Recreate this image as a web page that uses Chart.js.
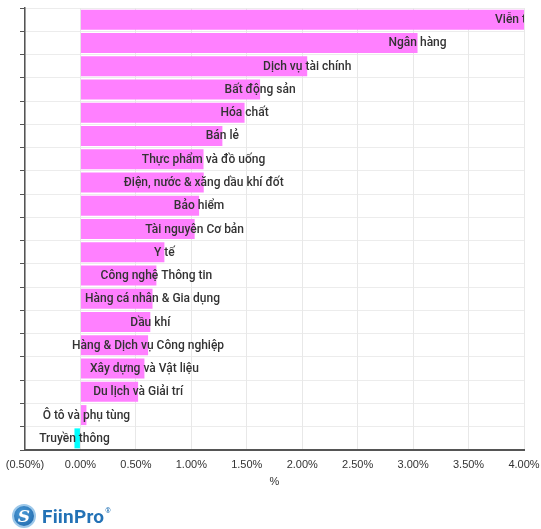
<!DOCTYPE html>
<html><head><meta charset="utf-8">
<script src="https://cdn.jsdelivr.net/npm/chart.js@4/dist/chart.umd.min.js"></script>
<style>
html,body{margin:0;padding:0;background:#fff;}
#wrap{position:relative;width:541px;height:529px;overflow:hidden;}
#c{position:absolute;left:0;top:0;}
#logo{position:absolute;left:12px;top:504px;height:24px;display:flex;align-items:center;font-family:Roboto,"Liberation Sans",sans-serif;}
#logo .ic{width:24px;height:24px;border-radius:50%;background:radial-gradient(circle at 40% 35%,#4a9ad6,#1d64a8);color:#fff;font-weight:bold;font-size:17px;display:flex;align-items:center;justify-content:center;font-family:"DejaVu Serif",serif;font-style:italic;box-sizing:border-box;border:2px solid #9cc8ea;}
#logo .tx{margin-left:6px;font-weight:bold;font-size:19px;color:#2372b6;letter-spacing:0.2px;}
#logo sup{font-size:7px;color:#2372b6;margin-left:1px;align-self:flex-start;margin-top:3px;}
</style></head>
<body>
<div id="wrap">
<canvas id="c" width="541" height="529"></canvas>
<div id="logo"><span class="ic">S</span><span class="tx">FiinPro</span><sup>®</sup></div>
</div>
<script>
const categories = ["Viễn thông","Ngân hàng","Dịch vụ tài chính","Bất động sản","Hóa chất","Bán lẻ","Thực phẩm và đồ uống","Điện, nước & xăng dầu khí đốt","Bảo hiểm","Tài nguyên Cơ bản","Y tế","Công nghệ Thông tin","Hàng cá nhân & Gia dụng","Dầu khí","Hàng & Dịch vụ Công nghiệp","Xây dựng và Vật liệu","Du lịch và Giải trí","Ô tô và phụ tùng","Truyền thông"];
const values = [4.00,3.04,2.045,1.62,1.48,1.28,1.11,1.112,1.07,1.03,0.757,0.685,0.65,0.63,0.61,0.577,0.52,0.054,-0.054];
const xTicks = [-0.5,0,0.5,1,1.5,2,2.5,3,3.5,4];
const posColor = "#ff80ff";
const negColor = "#00ffff";

const barLabels = {
  id:'barLabels',
  afterDatasetsDraw(chart){
    const {ctx, chartArea:a} = chart;
    const meta = chart.getDatasetMeta(0);
    ctx.save();
    ctx.beginPath(); ctx.rect(a.left, a.top, a.right-a.left, a.bottom-a.top); ctx.clip();
    ctx.font = '500 12px Roboto'; ctx.fillStyle = '#333'; ctx.textAlign = 'center'; ctx.textBaseline = 'middle';
    meta.data.forEach((el,i)=>{ ctx.fillText(categories[i], el.x, el.y + 0.5); });
    ctx.restore();
  }
};

new Chart(document.getElementById('c'), {
  type:'bar',
  data:{
    labels:categories,
    datasets:[{
      data:values,
      backgroundColor:values.map(v=>v<0?negColor:posColor),
      borderWidth:0,
      barPercentage:0.86,
      categoryPercentage:1
    }]
  },
  options:{
    indexAxis:'y',
    responsive:false,
    devicePixelRatio:1,
    animation:false,
    layout:{padding:{left:0,right:17,top:8,bottom:34}},
    plugins:{legend:{display:false},tooltip:{enabled:false}},
    scales:{
      y:{
        type:'category',
        ticks:{display:false},
        grid:{color:'#ececec',tickColor:'#555',tickLength:5,offset:true},
        border:{color:'#555',width:1.5},
        afterFit(s){ s.width = 25; s.paddingTop = 0; s.paddingBottom = 0; }
      },
      x:{
        type:'linear',
        min:-0.5,max:4,
        afterBuildTicks(s){ s.ticks = xTicks.map(v=>({value:v})); },
        ticks:{
          font:{family:'"Liberation Sans", Arial, sans-serif',size:11},
          color:'#333',padding:8,maxRotation:0,autoSkip:false,
          callback(v){ const t = Math.abs(v).toFixed(2)+'%'; return v<0?'('+t+')':t; }
        },
        grid:{color:'#e8e8e8',drawTicks:false},
        border:{color:'#555',width:2},
        title:{display:true,text:'%',font:{family:'"Liberation Sans", Arial, sans-serif',size:11},color:'#333',padding:{top:0,bottom:6}},
        afterFit(s){ s.height = 45; s.paddingLeft = 0; s.paddingRight = 0; }
      }
    }
  },
  plugins:[barLabels]
});
</script>
</body></html>
